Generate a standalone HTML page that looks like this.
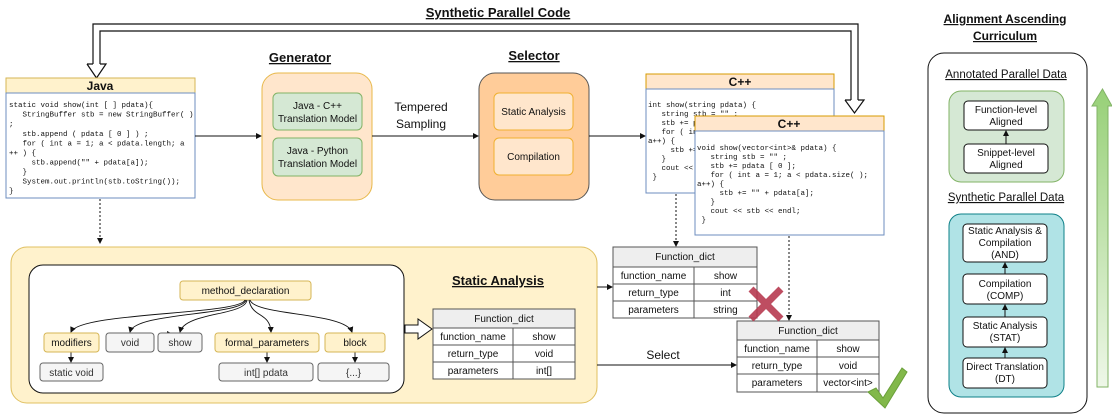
<!DOCTYPE html>
<html><head><meta charset="utf-8"><style>
html,body{margin:0;padding:0;background:#fff;}
svg{display:block;}
text{font-family:"Liberation Sans",sans-serif;fill:#111;}
.m{font-family:"Liberation Mono",monospace;font-size:7.5px;white-space:pre;}
.t{font-size:10px;}
.b{font-weight:bold;}
</style></head><body>
<svg width="1112" height="417" viewBox="0 0 1112 417" xmlns="http://www.w3.org/2000/svg" xml:space="preserve">
<defs>
<marker id="ar" markerWidth="6" markerHeight="6" refX="5" refY="3" orient="auto" markerUnits="userSpaceOnUse"><path d="M0,0 L6,3 L0,6 z" fill="#111"/></marker>
<linearGradient id="gg" x1="0" y1="1" x2="0" y2="0"><stop offset="0" stop-color="#eef7e8"/><stop offset="1" stop-color="#97d077"/></linearGradient>
</defs>

<!-- top double arrow -->
<text x="498" y="17" text-anchor="middle" class="b" font-size="13" text-decoration="underline">Synthetic Parallel Code</text>
<path d="M93,64 L93,24 L858,24 L858,100" fill="none" stroke="#111" stroke-width="1.2"/>
<path d="M100,64 L100,31 L851,31 L851,100" fill="none" stroke="#111" stroke-width="1.2"/>
<path d="M87,64 L93,64 M100,64 L106,64 L96.5,78 L87,64" fill="#fff" stroke="#111" stroke-width="1.2"/>
<path d="M845,100 L851,100 M858,100 L864,100 L854.5,113 L845,100" fill="#fff" stroke="#111" stroke-width="1.2"/>

<!-- Java -->
<rect x="6" y="78" width="189" height="15" fill="#fff2cc" stroke="#d6b656"/>
<text x="100" y="90" text-anchor="middle" class="b" font-size="12">Java</text>
<rect x="6" y="93" width="189" height="105" fill="#fff" stroke="#6c8ebf"/>
<text x="9" y="107" class="m">static void show(int [ ] pdata){</text>
<text x="9" y="116.5" class="m">   StringBuffer stb = new StringBuffer( )</text>
<text x="9" y="126" class="m">;</text>
<text x="9" y="136" class="m">   stb.append ( pdata [ 0 ] ) ;</text>
<text x="9" y="145.5" class="m">   for ( int a = 1; a &lt; pdata.length; a</text>
<text x="9" y="155" class="m">++ ) {</text>
<text x="9" y="164.5" class="m">     stb.append("" + pdata[a]);</text>
<text x="9" y="174" class="m">   }</text>
<text x="9" y="183.5" class="m">   System.out.println(stb.toString());</text>
<text x="9" y="193" class="m">}</text>
<line x1="100" y1="199" x2="100" y2="243" stroke="#111" stroke-dasharray="2,2" marker-end="url(#ar)"/>
<line x1="195" y1="136" x2="261" y2="136" stroke="#111" marker-end="url(#ar)"/>

<!-- Generator -->
<text x="300" y="62" text-anchor="middle" class="b" font-size="13" text-decoration="underline">Generator</text>
<rect x="262" y="73" width="110" height="127" rx="16" fill="#ffe6cc" stroke="#e8b84a"/>
<rect x="273" y="93" width="89" height="37" rx="5" fill="#d5e8d4" stroke="#82b366"/>
<text x="317.5" y="109" text-anchor="middle" class="t">Java - C++</text>
<text x="317.5" y="122" text-anchor="middle" class="t">Translation Model</text>
<rect x="273" y="138" width="89" height="38" rx="5" fill="#d5e8d4" stroke="#82b366"/>
<text x="317.5" y="154" text-anchor="middle" class="t">Java - Python</text>
<text x="317.5" y="167" text-anchor="middle" class="t">Translation Model</text>
<line x1="372" y1="136" x2="478" y2="136" stroke="#111" marker-end="url(#ar)"/>
<text x="421" y="111" text-anchor="middle" font-size="12">Tempered</text>
<text x="421" y="128" text-anchor="middle" font-size="12">Sampling</text>

<!-- Selector -->
<text x="534" y="60" text-anchor="middle" class="b" font-size="13" text-decoration="underline">Selector</text>
<rect x="479" y="73" width="110" height="127" rx="16" fill="#ffcc99" stroke="#555"/>
<rect x="494" y="93" width="79" height="37" rx="5" fill="#ffe6cc" stroke="#f0b030"/>
<text x="533.5" y="115" text-anchor="middle" class="t">Static Analysis</text>
<rect x="494" y="138" width="79" height="37" rx="5" fill="#ffe6cc" stroke="#f0b030"/>
<text x="533.5" y="160" text-anchor="middle" class="t">Compilation</text>
<line x1="589" y1="136" x2="645" y2="136" stroke="#111" marker-end="url(#ar)"/>

<!-- C++ 1 -->
<rect x="646" y="74" width="188" height="15" fill="#ffe6cc" stroke="#d79b00"/>
<text x="740" y="86" text-anchor="middle" class="b" font-size="12">C++</text>
<rect x="646" y="89" width="188" height="104" fill="#fff" stroke="#6c8ebf"/>
<text x="648" y="107" class="m">int show(string pdata) {</text>
<text x="648" y="116" class="m">   string stb = "" ;</text>
<text x="648" y="125" class="m">   stb += pdata [ 0 ];</text>
<text x="648" y="134" class="m">   for ( int a = 1; a &lt; pdata.length( );</text>
<text x="648" y="143" class="m">a++) {</text>
<text x="648" y="152" class="m">     stb += "" + pdata[a];</text>
<text x="648" y="161" class="m">   }</text>
<text x="648" y="170" class="m">   cout &lt;&lt; stb &lt;&lt; endl;</text>
<text x="648" y="179" class="m"> }</text>
<line x1="676" y1="194" x2="676" y2="246" stroke="#111" stroke-dasharray="2,2" marker-end="url(#ar)"/>

<!-- C++ 2 -->
<rect x="695" y="116" width="189" height="15" fill="#ffe6cc" stroke="#d79b00"/>
<text x="789" y="128" text-anchor="middle" class="b" font-size="12">C++</text>
<rect x="695" y="131" width="189" height="104" fill="#fff" stroke="#6c8ebf"/>
<text x="697" y="150" class="m">void show(vector&lt;int&gt;&amp; pdata) {</text>
<text x="697" y="159" class="m">   string stb = "" ;</text>
<text x="697" y="168" class="m">   stb += pdata [ 0 ];</text>
<text x="697" y="177" class="m">   for ( int a = 1; a &lt; pdata.size( );</text>
<text x="697" y="186" class="m">a++) {</text>
<text x="697" y="195" class="m">     stb += "" + pdata[a];</text>
<text x="697" y="204" class="m">   }</text>
<text x="697" y="213" class="m">   cout &lt;&lt; stb &lt;&lt; endl;</text>
<text x="697" y="222" class="m"> }</text>
<line x1="789" y1="236" x2="789" y2="320" stroke="#111" stroke-dasharray="2,2" marker-end="url(#ar)"/>

<!-- Static analysis big box -->
<rect x="11" y="247" width="586" height="156" rx="16" fill="#fff2cc" stroke="#e0c060"/>
<rect x="29" y="265" width="375" height="128" rx="14" fill="#fff" stroke="#111"/>
<text x="498" y="285" text-anchor="middle" class="b" font-size="13" text-decoration="underline">Static Analysis</text>

<rect x="180" y="281" width="131" height="19" rx="3" fill="#fff2cc" stroke="#d6b656"/>
<text x="245.5" y="294" text-anchor="middle" class="t">method_declaration</text>
<g fill="none" stroke="#111" stroke-width="0.9">
<path d="M245,300 C240,315 80,312 71,332" marker-end="url(#ar)"/>
<path d="M246,300 C242,316 135,312 130,332" marker-end="url(#ar)"/>
<path d="M247,300 C245,316 185,312 180,332" marker-end="url(#ar)"/>
<path d="M249,300 C252,318 270,312 271,332" marker-end="url(#ar)"/>
<path d="M250,300 C255,316 345,312 352,332" marker-end="url(#ar)"/>
<path d="M165,334 L172,334" marker-end="url(#ar)"/>
<line x1="71" y1="352" x2="71" y2="362" marker-end="url(#ar)"/>
<line x1="267" y1="352" x2="267" y2="362" marker-end="url(#ar)"/>
<line x1="355" y1="352" x2="355" y2="362" marker-end="url(#ar)"/>
</g>
<rect x="44" y="333" width="55" height="19" rx="3" fill="#fff2cc" stroke="#d6b656"/>
<text x="71.5" y="346" text-anchor="middle" class="t">modifiers</text>
<rect x="106" y="333" width="48" height="19" rx="3" fill="#f5f5f5" stroke="#666"/>
<text x="130" y="346" text-anchor="middle" class="t" style="fill:#333">void</text>
<rect x="158" y="333" width="44" height="19" rx="3" fill="#f5f5f5" stroke="#666"/>
<text x="180" y="346" text-anchor="middle" class="t" style="fill:#333">show</text>
<rect x="215" y="333" width="104" height="19" rx="3" fill="#fff2cc" stroke="#d6b656"/>
<text x="267" y="346" text-anchor="middle" class="t">formal_parameters</text>
<rect x="325" y="333" width="60" height="19" rx="3" fill="#fff2cc" stroke="#d6b656"/>
<text x="355" y="346" text-anchor="middle" class="t">block</text>
<rect x="40" y="363" width="63" height="18" rx="3" fill="#f5f5f5" stroke="#666"/>
<text x="71.5" y="376" text-anchor="middle" class="t" style="fill:#333">static void</text>
<rect x="219" y="363" width="94" height="18" rx="3" fill="#f5f5f5" stroke="#666"/>
<text x="266" y="376" text-anchor="middle" class="t" style="fill:#333">int[] pdata</text>
<rect x="318" y="363" width="71" height="18" rx="3" fill="#f5f5f5" stroke="#666"/>
<text x="353.5" y="376" text-anchor="middle" class="t" style="fill:#333">{...}</text>

<!-- hollow arrow -->
<path d="M405,325 L418,325 L418,319 L432,329 L418,339 L418,333 L405,333 z" fill="#fff" stroke="#111"/>

<!-- table in SA -->
<g stroke="#555" fill="#fff">
<rect x="433" y="309" width="142" height="19" fill="#eee"/>
<rect x="433" y="328" width="80" height="17"/><rect x="513" y="328" width="62" height="17"/>
<rect x="433" y="345" width="80" height="17"/><rect x="513" y="345" width="62" height="17"/>
<rect x="433" y="362" width="80" height="17"/><rect x="513" y="362" width="62" height="17"/>
</g>
<text x="504" y="322" text-anchor="middle" class="t">Function_dict</text>
<text x="473" y="340" text-anchor="middle" class="t">function_name</text><text x="544" y="340" text-anchor="middle" class="t">show</text>
<text x="473" y="357" text-anchor="middle" class="t">return_type</text><text x="544" y="357" text-anchor="middle" class="t">void</text>
<text x="473" y="374" text-anchor="middle" class="t">parameters</text><text x="544" y="374" text-anchor="middle" class="t">int[]</text>

<!-- arrows out -->
<line x1="597" y1="287" x2="612" y2="287" stroke="#111" marker-end="url(#ar)"/>
<line x1="597" y1="365" x2="736" y2="365" stroke="#111" marker-end="url(#ar)"/>
<text x="663" y="359" text-anchor="middle" font-size="12">Select</text>

<!-- table1 -->
<g stroke="#555" fill="#fff">
<rect x="613" y="247" width="144" height="20" fill="#eee"/>
<rect x="613" y="267" width="81" height="17"/><rect x="694" y="267" width="63" height="17"/>
<rect x="613" y="284" width="81" height="17"/><rect x="694" y="284" width="63" height="17"/>
<rect x="613" y="301" width="81" height="17"/><rect x="694" y="301" width="63" height="17"/>
</g>
<text x="685" y="260" text-anchor="middle" class="t">Function_dict</text>
<text x="653.5" y="279" text-anchor="middle" class="t">function_name</text><text x="725.5" y="279" text-anchor="middle" class="t">show</text>
<text x="653.5" y="296" text-anchor="middle" class="t">return_type</text><text x="725.5" y="296" text-anchor="middle" class="t">int</text>
<text x="653.5" y="313" text-anchor="middle" class="t">parameters</text><text x="725.5" y="313" text-anchor="middle" class="t">string</text>

<!-- table2 -->
<g stroke="#555" fill="#fff">
<rect x="737" y="321" width="142" height="19" fill="#eee"/>
<rect x="737" y="340" width="80" height="17"/><rect x="817" y="340" width="62" height="17"/>
<rect x="737" y="357" width="80" height="17"/><rect x="817" y="357" width="62" height="17"/>
<rect x="737" y="374" width="80" height="18"/><rect x="817" y="374" width="62" height="18"/>
</g>
<text x="808" y="334" text-anchor="middle" class="t">Function_dict</text>
<text x="777" y="352" text-anchor="middle" class="t">function_name</text><text x="848" y="352" text-anchor="middle" class="t">show</text>
<text x="777" y="369" text-anchor="middle" class="t">return_type</text><text x="848" y="369" text-anchor="middle" class="t">void</text>
<text x="777" y="386" text-anchor="middle" class="t">parameters</text><text x="848" y="386" text-anchor="middle" class="t">vector&lt;int&gt;</text>

<!-- cross -->
<g stroke="#b83a50" stroke-width="7" opacity="0.9">
<line x1="751" y1="289" x2="781" y2="319"/><line x1="781" y1="289" x2="751" y2="319"/>
</g>
<!-- check -->
<path d="M868,392 L876,388 L883,398 L902,368 L907,372 L885,408 Z" fill="#82b84a" stroke="#6aa03a"/>

<!-- Right panel -->
<text x="1005" y="23" text-anchor="middle" class="b" font-size="12" text-decoration="underline">Alignment Ascending</text>
<text x="1005" y="40" text-anchor="middle" class="b" font-size="12" text-decoration="underline">Curriculum</text>
<rect x="928" y="53" width="159" height="360" rx="16" fill="#fff" stroke="#111"/>
<text x="1006" y="78" text-anchor="middle" font-size="11.5" text-decoration="underline">Annotated Parallel Data</text>
<rect x="949" y="91" width="115" height="91" rx="12" fill="#d5e8d4" stroke="#82b366"/>
<rect x="964" y="101" width="84" height="29" rx="4" fill="#fff" stroke="#111"/>
<text x="1006" y="113" text-anchor="middle" class="t">Function-level</text>
<text x="1006" y="125" text-anchor="middle" class="t">Aligned</text>
<line x1="1006" y1="144" x2="1006" y2="131" stroke="#111" marker-end="url(#ar)"/>
<rect x="964" y="144" width="84" height="29" rx="4" fill="#fff" stroke="#111"/>
<text x="1006" y="156" text-anchor="middle" class="t">Snippet-level</text>
<text x="1006" y="168" text-anchor="middle" class="t">Aligned</text>
<text x="1006" y="201" text-anchor="middle" font-size="11.5" text-decoration="underline">Synthetic Parallel Data</text>
<rect x="949" y="214" width="115" height="183" rx="12" fill="#b0e3e6" stroke="#0e8088"/>
<rect x="963" y="224" width="84" height="38" rx="4" fill="#fff" stroke="#111"/>
<text x="1005" y="234" text-anchor="middle" class="t">Static Analysis &amp;</text>
<text x="1005" y="246" text-anchor="middle" class="t">Compilation</text>
<text x="1005" y="258" text-anchor="middle" class="t">(AND)</text>
<line x1="1005" y1="274" x2="1005" y2="263" stroke="#111" marker-end="url(#ar)"/>
<rect x="963" y="274" width="84" height="30" rx="4" fill="#fff" stroke="#111"/>
<text x="1005" y="287" text-anchor="middle" class="t">Compilation</text>
<text x="1005" y="299" text-anchor="middle" class="t">(COMP)</text>
<line x1="1005" y1="317" x2="1005" y2="305" stroke="#111" marker-end="url(#ar)"/>
<rect x="963" y="317" width="84" height="30" rx="4" fill="#fff" stroke="#111"/>
<text x="1005" y="329" text-anchor="middle" class="t">Static Analysis</text>
<text x="1005" y="341" text-anchor="middle" class="t">(STAT)</text>
<line x1="1005" y1="358" x2="1005" y2="348" stroke="#111" marker-end="url(#ar)"/>
<rect x="963" y="358" width="84" height="30" rx="4" fill="#fff" stroke="#111"/>
<text x="1005" y="370" text-anchor="middle" class="t">Direct Translation</text>
<text x="1005" y="382" text-anchor="middle" class="t">(DT)</text>

<!-- green arrow -->
<path d="M1097,387 L1097,106 L1092,106 L1102.5,89 L1112,106 L1108,106 L1108,387 Z" fill="url(#gg)" stroke="#82b366"/>
</svg>
</body></html>
